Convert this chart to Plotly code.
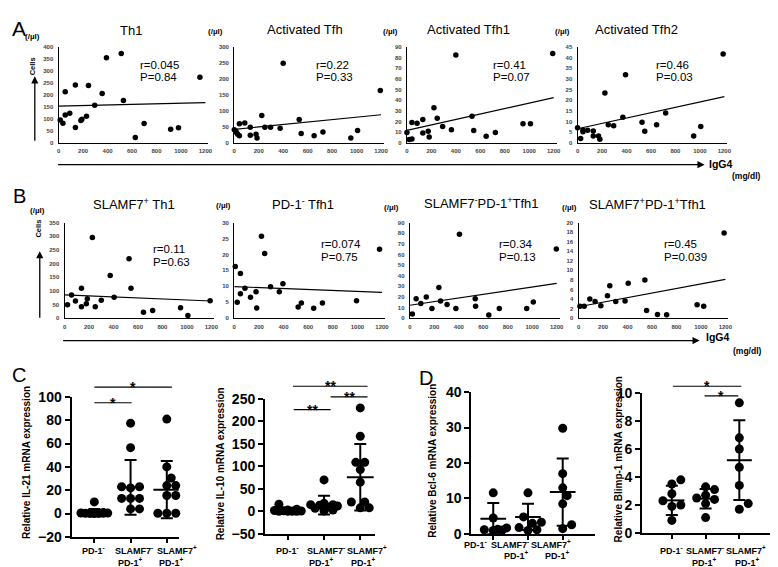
import math
import plotly.graph_objects as go

W, H = 778, 567
FONT = "Arial, Liberation Sans, sans-serif"

# ---------------- DATA: panel A (IgG4 mg/dl vs cells /ul) ----------------
th1_igg4 = [13, 35, 54, 54, 91, 137, 137, 182, 190, 228, 244, 295, 356, 391, 512, 530, 627, 699, 916, 980, 1155]
th1_cells = [95, 82, 213, 116, 124, 242, 64, 93, 98, 111, 240, 157, 206, 356, 373, 177, 22, 81, 57, 63, 274]
th1_fit = [153, 168]

tfh_igg4 = [0, 11, 19, 28, 42, 42, 86, 131, 131, 178, 186, 225, 250, 297, 375, 400, 531, 547, 653, 725, 953, 1008, 1194]
tfh_cells = [41, 37, 32, 27, 22, 60, 62, 49, 24, 27, 15, 86, 49, 49, 46, 249, 73, 29, 22, 34, 15, 39, 164]
tfh_fit = [42, 88]

tfh1_igg4 = [0, 19, 41, 41, 83, 130, 130, 174, 182, 221, 248, 292, 364, 400, 532, 546, 648, 723, 949, 1010, 1192]
tfh1_cells = [9.6, 3.1, 3.7, 19, 18.5, 22, 9.2, 10.8, 5.5, 33, 23, 15.4, 12.3, 82.6, 25, 11.7, 6.2, 9.6, 17.9, 17.9, 84]
tfh1_fit = [11.7, 42.5]

tfh2_igg4 = [0, 25, 44, 44, 82, 128, 128, 171, 182, 223, 251, 295, 370, 392, 527, 549, 646, 720, 949, 1007, 1190]
tfh2_cells = [7.1, 2, 5.9, 5.2, 5.9, 5.5, 3.2, 3.2, 1.7, 23.4, 8.5, 8, 12, 32, 9.7, 5.4, 8.5, 14, 3.2, 7.7, 41.8]
tfh2_fit = [6.6, 21.7]

# ---------------- DATA: panel B ----------------
s7th1_igg4 = [24, 57, 89, 138, 138, 178, 186, 227, 251, 300, 373, 405, 527, 543, 645, 720, 948, 1008, 1190]
s7th1_cells = [49, 85, 63, 110, 42, 53, 71, 295, 42, 66, 156, 77, 217, 110, 22, 28, 38, 10, 64]
s7th1_fit = [85, 63]

pd1n_igg4 = [8, 24, 50, 50, 87, 132, 177, 182, 221, 247, 295, 366, 395, 519, 545, 645, 716, 993, 1180]
pd1n_cells = [16.2, 5, 14, 7.7, 9.4, 6.6, 8.3, 3.2, 25.7, 20.3, 9.9, 8.3, 10.8, 3.5, 4.8, 3.1, 4.8, 5.5, 21.6]
pd1n_fit = [9.9, 8.1]

s7n_igg4 = [20, 51, 89, 134, 180, 237, 251, 304, 376, 405, 534, 537, 645, 731, 955, 1009, 1197]
s7n_cells = [4, 18.4, 13.8, 20, 9.2, 29, 16.3, 12.9, 9.2, 79, 18.4, 11.3, 3, 9.2, 9.2, 15.3, 65]
s7n_fit = [12.2, 32.8]

s7p_igg4 = [11, 46, 92, 135, 182, 236, 255, 304, 380, 406, 542, 556, 645, 720, 969, 1023, 1190]
s7p_cells = [2.5, 2.5, 4.0, 3.5, 2.6, 4.7, 6.8, 3.5, 3.6, 7.3, 8.0, 1.6, 0.8, 0.7, 2.8, 2.5, 17.8]
s7p_fit = [2.4, 8.1]

fit_x = [0, 1200]
igg4_ticks = [0, 200, 400, 600, 800, 1000, 1200]

# ---------------- DATA: panels C, D (relative mRNA expression) ----------------
cat_line1 = ["PD-1<sup>-</sup>", "SLAMF7<sup>-</sup>", "SLAMF7<sup>+</sup>"]
cat_line2 = ["", "PD-1<sup>+</sup>", "PD-1<sup>+</sup>"]

il21_pd1neg = [10, 1.0, 0.6, 0.4, 0.3, 0.2, 0.1, 0.5, 0.2, 0.3]
il21_s7neg = [77.5, 56.5, 23, 23, 22, 13, 13, 13, 4, 4]
il21_s7pos = [81, 40, 30.5, 24, 24, 15.5, 15.5, 0.3, 0.3, 0.3]
il21_mean = [0.7, 22.5, 20.5]
il21_sd = [3.3, 23.5, 24.5]

il10_pd1neg = [16, 5, 3, 2, 1.5, 1, 0.5, 0.5, 0.3, 0.2]
il10_s7neg = [70, 18, 15, 15, 14, 12, 10, 7, 3, 1]
il10_s7pos = [230, 167, 109, 109, 93, 65, 21, 21, 8, 8]
il10_mean = [3, 14, 76]
il10_sd = [5, 21, 74]

bcl6_pd1neg = [11.6, 4.5, 1.7, 1.3, 1.2, 1.1, 1.0]
bcl6_s7neg = [11.6, 4.8, 3.3, 3.0, 1.8, 1.2, 1.0]
bcl6_s7pos = [29.8, 17, 13, 10.8, 8.5, 2.6, 1.5]
bcl6_mean = [4.3, 4.8, 11.8]
bcl6_sd = [4.4, 3.7, 9.5]

blimp_pd1neg = [3.8, 3.5, 2.8, 2.3, 2.0, 1.9, 0.9]
blimp_s7neg = [3.3, 3.1, 2.7, 2.5, 2.4, 2.1, 1.1]
blimp_s7pos = [9.3, 6.8, 6.0, 4.7, 3.4, 2.1, 1.7]
blimp_mean = [2.33, 2.45, 5.2]
blimp_sd = [1.05, 0.7, 2.85]


# ---------------- helpers ----------------
def px2x(px):
    return px / W


def py2y(py):
    return 1 - py / H


def ann(fig, text, px, py, size, bold=False, xanchor="center", yanchor="middle", angle=0, color="black"):
    fig.add_annotation(text=text, x=px2x(px), y=py2y(py), xref="paper", yref="paper",
                       showarrow=False, xanchor=xanchor, yanchor=yanchor, textangle=angle,
                       borderpad=0,
                       font=dict(family=FONT, size=size, color=color,
                                 weight="bold" if bold else "normal"))


def arrow(fig, x0, y0, x1, y1):
    fig.add_annotation(x=px2x(x1), y=py2y(y1), xref="paper", yref="paper",
                       ax=x0 - x1, ay=y0 - y1, axref="pixel", ayref="pixel",
                       showarrow=True, arrowhead=2, arrowsize=1.1, arrowwidth=1.3,
                       arrowcolor="black", text="", standoff=0, startstandoff=0)


def swarm(vals, ypu, xpu, d, maxhalf):
    step = d * 0.5
    offs = [0.0]
    k = 1
    while k * step <= maxhalf + 1e-9:
        offs += [k * step, -k * step]
        k += 1
    placed = []
    res = [0.0] * len(vals)
    for i in sorted(range(len(vals)), key=lambda j: vals[j]):
        yp = vals[i] * ypu
        best, bestd = 0.0, -1
        for o in offs:
            md = min([math.hypot(o - a, yp - b) for a, b in placed], default=1e9)
            if md >= 0.95 * d:
                best = o
                break
            if md > bestd:
                bestd, best = md, o
        placed.append((best, yp))
        res[i] = best / xpu
    return res


fig = go.Figure()
layout = {}
ax_idx = [0]


def new_axes(xpx, ypx):
    ax_idx[0] += 1
    i = ax_idx[0]
    xa = "x" if i == 1 else f"x{i}"
    ya = "y" if i == 1 else f"y{i}"
    kx = "xaxis" if i == 1 else f"xaxis{i}"
    ky = "yaxis" if i == 1 else f"yaxis{i}"
    return i, xa, ya, kx, ky, [px2x(xpx[0]), px2x(xpx[1])], [py2y(ypx[1]), py2y(ypx[0])]


# ---------------- scatter panels (A, B) ----------------
scatter_panels = [
    dict(x=th1_igg4, y=th1_cells, fit=th1_fit, ymax=400, dy=50, xpx=(49, 200), ypx=(32, 130.5),
         title="Th1", tpos=(122, 15), upos=(23, 21), rpos=(130, 50), r="r=0.045", p="P=0.84"),
    dict(x=tfh_igg4, y=tfh_cells, fit=tfh_fit, ymax=300, dy=50, xpx=(226, 377), ypx=(32, 130.5),
         title="Activated Tfh", tpos=(297, 14), upos=(207, 16), rpos=(307, 50), r="r=0.22", p="P=0.33"),
    dict(x=tfh1_igg4, y=tfh1_cells, fit=tfh1_fit, ymax=90, dy=10, xpx=(400, 551), ypx=(32, 130.5),
         title="Activated Tfh1", tpos=(462, 14), upos=(383, 16), rpos=(486, 50), r="r=0.41", p="P=0.07"),
    dict(x=tfh2_igg4, y=tfh2_cells, fit=tfh2_fit, ymax=45, dy=5, xpx=(572, 723), ypx=(32, 130.5),
         title="Activated Tfh2", tpos=(631, 14), upos=(557, 16), rpos=(650, 50), r="r=0.46", p="P=0.03"),
    dict(x=s7th1_igg4, y=s7th1_cells, fit=s7th1_fit, ymax=350, dy=50, xpx=(55, 206), ypx=(212.5, 311),
         title="SLAMF7<sup>+</sup> Th1", tpos=(125, 193), upos=(28, 200), rpos=(143, 240), r="r=0.11", p="P=0.63"),
    dict(x=pd1n_igg4, y=pd1n_cells, fit=pd1n_fit, ymax=30, dy=5, xpx=(226, 378), ypx=(212.5, 311),
         title="PD-1<sup>-</sup> Tfh1", tpos=(295, 193), upos=(215, 195), rpos=(312, 235), r="r=0.074", p="P=0.75"),
    dict(x=s7n_igg4, y=s7n_cells, fit=s7n_fit, ymax=90, dy=10, xpx=(403, 554), ypx=(212.5, 311),
         title="SLAMF7<sup>-</sup>PD-1<sup>+</sup>Tfh1", tpos=(475, 192), upos=(384, 197), rpos=(492, 235),
         r="r=0.34", p="P=0.13"),
    dict(x=s7p_igg4, y=s7p_cells, fit=s7p_fit, ymax=20, dy=2, xpx=(573, 724), ypx=(212.5, 311),
         title="SLAMF7<sup>+</sup>PD-1<sup>+</sup>Tfh1", tpos=(642, 193), upos=(564, 197), rpos=(658, 235),
         r="r=0.45", p="P=0.039"),
]

for sp in scatter_panels:
    i, xa, ya, kx, ky, xd, yd = new_axes(sp["xpx"], sp["ypx"])
    fig.add_trace(go.Scatter(x=sp["x"], y=sp["y"], mode="markers", xaxis=xa, yaxis=ya,
                             marker=dict(size=5.5, color="black"), cliponaxis=False, hoverinfo="skip"))
    fig.add_trace(go.Scatter(x=fit_x, y=sp["fit"], mode="lines", xaxis=xa, yaxis=ya,
                             line=dict(color="black", width=1.2), cliponaxis=False, hoverinfo="skip"))
    tick_font = dict(family=FONT, size=6, color="#444", weight="bold")
    layout[kx] = dict(domain=xd, range=[0, 1225], anchor=ya, showline=True, linecolor="black",
                      linewidth=1.3, showgrid=False, zeroline=False, tickvals=igg4_ticks,
                      ticks="", tickfont=tick_font, ticklabelstandoff=2, tickangle=0)
    yt = [k * sp["dy"] for k in range(int(round(sp["ymax"] / sp["dy"])) + 1)]
    layout[ky] = dict(domain=yd, range=[0, sp["ymax"]], anchor=xa, showline=True, linecolor="black",
                      linewidth=1.3, showgrid=False, zeroline=False, tickvals=yt,
                      ticks="", tickfont=tick_font, ticklabelstandoff=3)
    ann(fig, sp["title"], sp["tpos"][0], sp["tpos"][1], 13)
    ann(fig, "(/µl)", sp["upos"][0], sp["upos"][1], 8, bold=True)
    ann(fig, sp["r"], sp["rpos"][0], sp["rpos"][1], 11.5, xanchor="left")
    ann(fig, sp["p"], sp["rpos"][0], sp["rpos"][1] + 13, 11.5, xanchor="left")

# panel letters, axis arrows
ann(fig, "A", 1, 13, 21, xanchor="left")
ann(fig, "B", 2, 185, 20, xanchor="left")
ann(fig, "C", 1, 369, 20, xanchor="left")
ann(fig, "D", 411, 372, 20, xanchor="left")

arrow(fig, 25, 128, 25, 62)
ann(fig, "Cells", 23, 52, 7.5, bold=True, angle=-90)
arrow(fig, 52, 153, 700, 153)
ann(fig, "IgG4", 703, 152, 10.5, bold=True, xanchor="left")
ann(fig, "(mg/dl)", 727, 165, 8.5, bold=True, xanchor="left")

arrow(fig, 30, 310, 30, 242)
ann(fig, "Cells", 29, 219, 7.5, bold=True, angle=-90)
arrow(fig, 57, 334, 695, 334)
ann(fig, "IgG4", 700, 330, 10.5, bold=True, xanchor="left")
ann(fig, "(mg/dl)", 728, 345, 8.5, bold=True, xanchor="left")

# ---------------- category panels (C, D) ----------------
cat_panels = [
    dict(groups=[il21_pd1neg, il21_s7neg, il21_s7pos], mean=il21_mean, sd=il21_sd, yr=(-20, 100), dy=20,
         xpx=(62, 170), ypx=(392, 536), c0=85, cw=36.5, ylabel="Relative IL-21 mRNA expression", lpos=(16, 459),
         l1x=[84, 125, 168], l2x=[0, 121, 163], ly=(550, 562),
         sig=[(0.0, 1.03, 398, "*"), (0.0, 2.14, 382, "*")]),
    dict(groups=[il10_pd1neg, il10_s7neg, il10_s7pos], mean=il10_mean, sd=il10_sd, yr=(-50, 250), dy=50,
         xpx=(257, 368), ypx=(394, 533), c0=280, cw=36.5, ylabel="Relative IL-10 mRNA expression", lpos=(213, 461),
         l1x=[280, 318, 360], l2x=[0, 314, 356], ly=(550, 562),
         sig=[(0.16, 1.18, 405, "**"), (1.18, 2.2, 392, "**"), (0.14, 2.2, 381, "**")]),
    dict(groups=[bcl6_pd1neg, bcl6_s7neg, bcl6_s7pos], mean=bcl6_mean, sd=bcl6_sd, yr=(0, 40), dy=10,
         xpx=(465, 590), ypx=(387, 533), c0=487, cw=35, ylabel="Relative Bcl-6 mRNA expression", lpos=(425, 458),
         l1x=[469, 504, 545], l2x=[0, 510, 552], ly=(543, 555),
         sig=[]),
    dict(groups=[blimp_pd1neg, blimp_s7neg, blimp_s7pos], mean=blimp_mean, sd=blimp_sd, yr=(0, 10), dy=2,
         xpx=(637, 767), ypx=(388, 532), c0=667, cw=34, ylabel="Relative Blimp-1 mRNA expression", lpos=(613, 456),
         l1x=[667, 700, 742], l2x=[0, 700, 743], ly=(550, 562),
         sig=[(0.97, 1.97, 391, "*"), (0.03, 2.06, 381, "*")]),
]

D = 9.0
for cp in cat_panels:
    i, xa, ya, kx, ky, xd, yd = new_axes(cp["xpx"], cp["ypx"])
    r0 = -(cp["c0"] - cp["xpx"][0]) / cp["cw"]
    r1 = (cp["xpx"][1] - cp["c0"]) / cp["cw"]
    ypu = (cp["ypx"][1] - cp["ypx"][0]) / (cp["yr"][1] - cp["yr"][0])
    for g, vals in enumerate(cp["groups"]):
        offs = swarm(vals, ypu, cp["cw"], D, 13.5)
        fig.add_trace(go.Scatter(x=[g + o for o in offs], y=vals, mode="markers", xaxis=xa, yaxis=ya,
                                 marker=dict(size=D, color="black"), cliponaxis=False, hoverinfo="skip"))
        m, s = cp["mean"][g], cp["sd"][g]
        fig.add_trace(go.Scatter(x=[g - 0.37, g + 0.37], y=[m, m], mode="lines", xaxis=xa, yaxis=ya,
                                 line=dict(color="black", width=2), cliponaxis=False, hoverinfo="skip"))
        fig.add_trace(go.Scatter(x=[g], y=[m], mode="markers", xaxis=xa, yaxis=ya,
                                 marker=dict(size=1, color="rgba(0,0,0,0)"),
                                 error_y=dict(type="data", array=[s], visible=True, color="black",
                                              thickness=2, width=6),
                                 cliponaxis=False, hoverinfo="skip"))
    yt = list(range(cp["yr"][0], cp["yr"][1] + 1, cp["dy"]))
    layout[kx] = dict(domain=xd, range=[r0, r1], anchor=ya, showline=True, linecolor="black", linewidth=2,
                      showgrid=False, zeroline=False, tickvals=[0, 1, 2], showticklabels=False,
                      ticks="outside", ticklen=4, tickwidth=2, tickcolor="black")
    layout[ky] = dict(domain=yd, range=list(cp["yr"]), anchor=xa, showline=True, linecolor="black", linewidth=2,
                      showgrid=False, zeroline=False, tickvals=yt, ticks="outside", ticklen=5, tickwidth=2,
                      tickcolor="black", tickfont=dict(family=FONT, size=14, color="black", weight="bold"))
    ann(fig, cp["ylabel"], cp["lpos"][0], cp["lpos"][1], 10, bold=True, angle=-90)
    for g in range(3):
        ann(fig, cat_line1[g], cp["l1x"][g], cp["ly"][0], 9, bold=True)
        if cat_line2[g]:
            ann(fig, cat_line2[g], cp["l2x"][g], cp["ly"][1], 9, bold=True)

    def cat_px(v, cp=cp):
        return cp["c0"] + v * cp["cw"]

    for a, b, ypos, txt in cp["sig"]:
        fig.add_shape(type="line", xref="paper", yref="paper",
                      x0=px2x(cat_px(a)), x1=px2x(cat_px(b)), y0=py2y(ypos), y1=py2y(ypos),
                      line=dict(color="black", width=1.2))
        ann(fig, txt, (cat_px(a) + cat_px(b)) / 2, ypos, 14, bold=True)

fig.update_layout(width=W, height=H, margin=dict(l=0, r=0, t=0, b=0), showlegend=False,
                  paper_bgcolor="white", plot_bgcolor="white", **layout)

fig.write_html("out.html")
